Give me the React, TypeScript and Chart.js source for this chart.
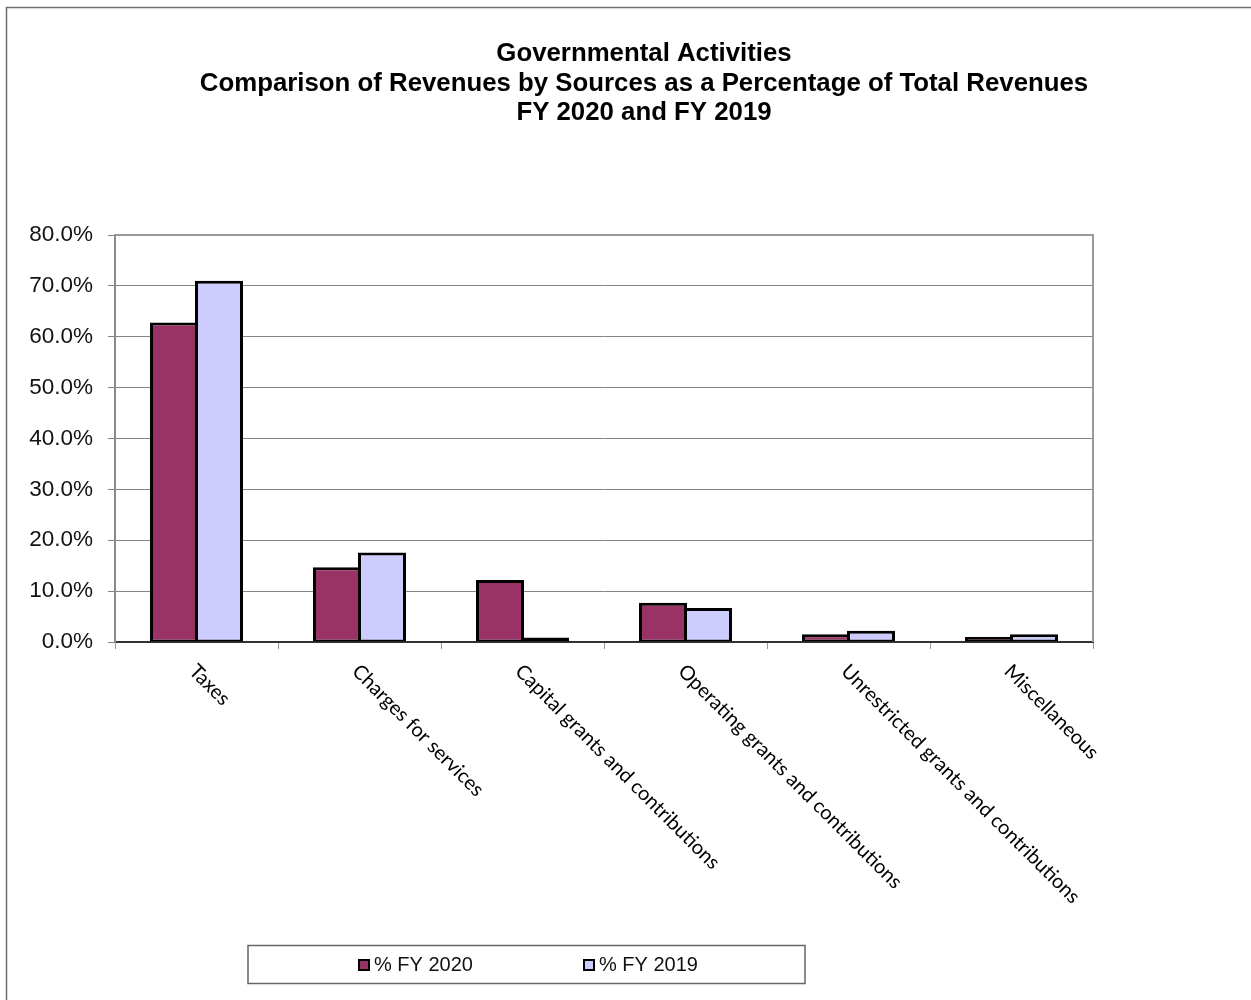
import { useEffect, useRef } from "react";
import { Chart, registerables } from "chart.js";

Chart.register(...registerables);

const titleLines = [
  "Governmental Activities",
  "Comparison of Revenues by Sources as a Percentage of Total Revenues",
  "FY 2020 and FY 2019",
];
const categories = [
  "Taxes",
  "Charges for services",
  "Capital grants and contributions",
  "Operating grants and contributions",
  "Unrestricted grants and contributions",
  "Miscellaneous",
];
const seriesNames = ["% FY 2020", "% FY 2019"];
const fy2020 = [62.8, 14.7, 12.2, 7.7, 1.5, 1.0];
const fy2019 = [71.0, 17.6, 0.9, 6.7, 2.2, 1.5];
const yMin = 0;
const yMax = 80;
const yStep = 10;

const COLORS = ["#993366", "#CCCCFF"];

const decorPlugin = {
  id: "decor",
  afterDraw(chart: any) {
    const ctx = chart.ctx as CanvasRenderingContext2D;
    const { left, right, top, bottom } = chart.chartArea;
    ctx.save();

    // outer frame
    ctx.strokeStyle = "#6e6e6e";
    ctx.lineWidth = 1.5;
    ctx.strokeRect(6.5, 7.5, 1400, 1400);

    // plot frame (top and right)
    ctx.strokeStyle = "#9a9a9a";
    ctx.lineWidth = 2;
    ctx.beginPath();
    ctx.moveTo(left, top);
    ctx.lineTo(right, top);
    ctx.lineTo(right, bottom);
    ctx.stroke();

    // title
    ctx.fillStyle = "#000";
    ctx.font = "bold 25.8px 'Liberation Sans', Arial, sans-serif";
    ctx.textAlign = "center";
    ctx.textBaseline = "middle";
    titleLines.forEach((t, i) => ctx.fillText(t, 644, 54 + i * 29.5));

    // rotated category labels
    const xs = chart.scales.x;
    ctx.font = "20px Lato, 'Open Sans', sans-serif";
    ctx.textAlign = "left";
    ctx.textBaseline = "middle";
    (chart.data.labels as string[]).forEach((lab, i) => {
      const cx = xs.getPixelForValue(i);
      ctx.save();
      ctx.translate(cx - 4, bottom + 26);
      ctx.rotate(Math.PI / 4);
      ctx.fillText(lab, 0, 0);
      ctx.restore();
    });

    // legend
    ctx.strokeStyle = "#666";
    ctx.lineWidth = 1.5;
    ctx.strokeRect(248, 945.5, 557, 38);
    const legendX = [358, 583];
    ctx.font = "20px 'Liberation Sans', Arial, sans-serif";
    ctx.textAlign = "left";
    ctx.textBaseline = "middle";
    chart.data.datasets.forEach((ds: any, i: number) => {
      const x = legendX[i];
      ctx.fillStyle = ds.backgroundColor;
      ctx.fillRect(x, 959, 12, 12);
      ctx.strokeStyle = "#000";
      ctx.lineWidth = 2;
      ctx.strokeRect(x + 1, 960, 10, 10);
      ctx.fillStyle = "#111";
      ctx.fillText(ds.label, x + 16, 965);
    });

    ctx.restore();
  },
};

const barBorder = { top: 3, left: 3, right: 3, bottom: 2 };

export default function App() {
  const ref = useRef<HTMLCanvasElement>(null);

  useEffect(() => {
    if (!ref.current) return;
    const chart = new Chart(ref.current, {
      type: "bar",
      data: {
        labels: categories,
        datasets: [
          {
            label: seriesNames[0],
            data: fy2020,
            backgroundColor: COLORS[0],
            borderColor: "#000",
            borderWidth: barBorder,
            borderSkipped: false,
            barPercentage: 1.0667,
            categoryPercentage: 0.5521,
          },
          {
            label: seriesNames[1],
            data: fy2019,
            backgroundColor: COLORS[1],
            borderColor: "#000",
            borderWidth: barBorder,
            borderSkipped: false,
            barPercentage: 1.0667,
            categoryPercentage: 0.5521,
          },
        ],
      },
      options: {
        responsive: false,
        animation: false,
        devicePixelRatio: 1,
        layout: { padding: { left: 0, top: 235, right: 158, bottom: 0 } },
        plugins: {
          legend: { display: false },
          title: { display: false },
          tooltip: { enabled: false },
        },
        scales: {
          x: {
            grid: {
              display: true,
              drawOnChartArea: false,
              drawTicks: true,
              tickLength: 7,
              color: "#999",
              offset: true,
            },
            border: { display: true, color: "#333", width: 2 },
            ticks: { display: false },
            afterFit: (s: any) => {
              s.height = 358;
            },
          },
          y: {
            min: yMin,
            max: yMax,
            grid: { color: "#858585", lineWidth: 1, tickLength: 7, drawTicks: true },
            border: { display: true, color: "#8a8a8a", width: 2 },
            ticks: {
              stepSize: yStep,
              padding: 15,
              color: "#111",
              font: { family: "'Liberation Sans', Arial, sans-serif", size: 22.5 },
              callback: (v: any) => Number(v).toFixed(1) + "%",
            },
            afterFit: (s: any) => {
              s.width = 115;
            },
          },
        },
      },
      plugins: [decorPlugin],
    });
    return () => chart.destroy();
  }, []);

  return (
    <div style={{ position: "absolute", left: 0, top: 0, width: 1251, height: 1000, background: "#fff" }}>
      <canvas ref={ref} width={1251} height={1000} style={{ display: "block" }} />
    </div>
  );
}
